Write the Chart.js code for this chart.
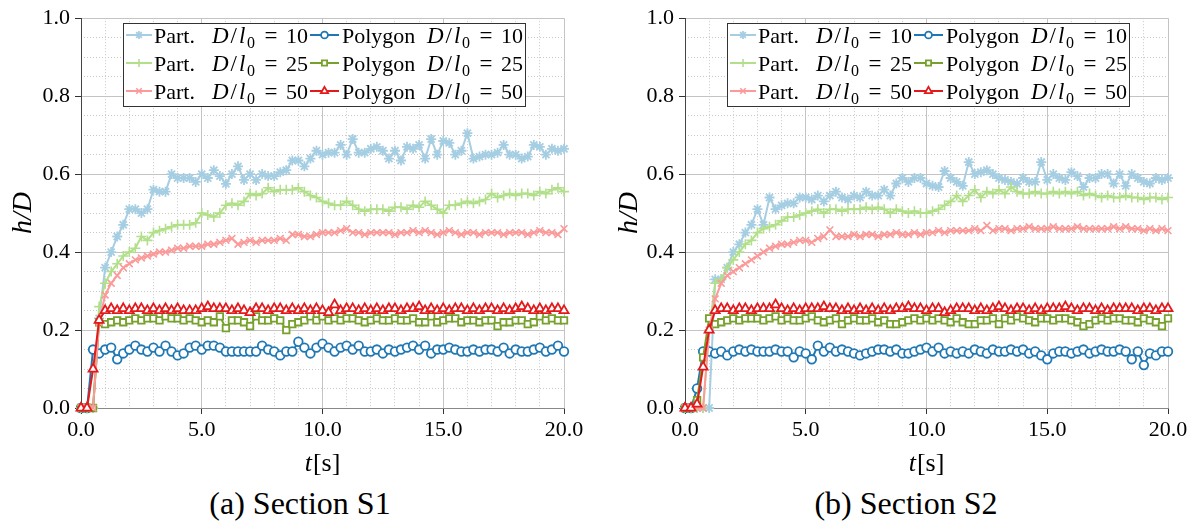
<!DOCTYPE html>
<html><head><meta charset="utf-8">
<script src="https://cdn.jsdelivr.net/npm/chart.js@4.4.1/dist/chart.umd.min.js"></script>
<style>
html,body{margin:0;padding:0;background:#fff;width:1198px;height:522px;overflow:hidden;}
#c1{position:absolute;left:0;top:0;}
#c2{position:absolute;left:599px;top:0;}
.cap{position:absolute;top:484px;height:38px;line-height:38px;font-family:'Liberation Serif';font-size:32px;color:#000;text-align:center;width:400px;}
</style></head><body>
<canvas id="c1" width="599" height="480"></canvas>
<canvas id="c2" width="599" height="480"></canvas>
<div class="cap" id="cap1" style="left:100px"></div>
<div class="cap" id="cap2" style="left:706px"></div>
<script>
const times = [0,0.25,0.5,0.75,1,1.25,1.5,1.75,2,2.25,2.5,2.75,3,3.25,3.5,3.75,4,4.25,4.5,4.75,5,5.25,5.5,5.75,6,6.25,6.5,6.75,7,7.25,7.5,7.75,8,8.25,8.5,8.75,9,9.25,9.5,9.75,10,10.25,10.5,10.75,11,11.25,11.5,11.75,12,12.25,12.5,12.75,13,13.25,13.5,13.75,14,14.25,14.5,14.75,15,15.25,15.5,15.75,16,16.25,16.5,16.75,17,17.25,17.5,17.75,18,18.25,18.5,18.75,19,19.25,19.5,19.75,20];

// Section S1
const s1Part10 = [0,0,0,0.23,0.36,0.40,0.44,0.47,0.51,0.51,
  0.50,0.51,0.56,0.555,0.555,0.60,0.59,0.59,0.59,0.58,
  0.60,0.59,0.61,0.595,0.575,0.60,0.62,0.585,0.60,0.585,
  0.60,0.595,0.595,0.605,0.61,0.635,0.635,0.62,0.64,0.66,
  0.65,0.655,0.655,0.675,0.65,0.69,0.655,0.655,0.665,0.67,
  0.66,0.64,0.66,0.635,0.67,0.665,0.675,0.64,0.69,0.65,
  0.685,0.68,0.65,0.66,0.705,0.64,0.645,0.65,0.65,0.655,
  0.675,0.65,0.65,0.64,0.645,0.675,0.67,0.65,0.665,0.66,
  0.665];
const s1Poly10 = [0,0,0.15,0.14,0.15,0.155,0.125,0.14,0.15,0.16,
  0.15,0.145,0.155,0.145,0.16,0.145,0.135,0.14,0.155,0.16,
  0.15,0.16,0.16,0.155,0.145,0.145,0.145,0.145,0.145,0.145,
  0.16,0.15,0.145,0.135,0.145,0.145,0.17,0.155,0.14,0.155,
  0.165,0.155,0.145,0.155,0.16,0.15,0.16,0.145,0.145,0.15,
  0.14,0.15,0.145,0.15,0.155,0.16,0.15,0.16,0.14,0.15,
  0.15,0.155,0.15,0.145,0.145,0.15,0.145,0.15,0.15,0.145,
  0.155,0.14,0.15,0.145,0.145,0.15,0.155,0.145,0.15,0.16,
  0.145];
const s1Part25 = [0,0,0,0.26,0.32,0.35,0.37,0.39,0.40,0.41,
  0.44,0.43,0.45,0.455,0.46,0.465,0.47,0.47,0.47,0.475,
  0.50,0.495,0.49,0.50,0.52,0.525,0.52,0.53,0.55,0.545,
  0.55,0.565,0.555,0.56,0.56,0.56,0.565,0.555,0.545,0.54,
  0.53,0.525,0.52,0.52,0.53,0.52,0.51,0.505,0.51,0.51,
  0.51,0.505,0.515,0.515,0.51,0.52,0.515,0.53,0.52,0.51,
  0.50,0.52,0.52,0.525,0.53,0.525,0.53,0.535,0.55,0.54,
  0.545,0.55,0.545,0.55,0.55,0.545,0.555,0.55,0.56,0.565,
  0.555];
const s1Poly25 = [0,0,0,0.22,0.215,0.22,0.225,0.22,0.225,0.23,
  0.225,0.23,0.23,0.225,0.235,0.23,0.23,0.225,0.23,0.225,
  0.22,0.225,0.22,0.235,0.205,0.225,0.225,0.22,0.21,0.235,
  0.225,0.225,0.23,0.225,0.20,0.215,0.22,0.225,0.235,0.225,
  0.235,0.225,0.23,0.225,0.23,0.23,0.225,0.22,0.225,0.23,
  0.225,0.225,0.23,0.225,0.225,0.23,0.22,0.22,0.235,0.22,
  0.225,0.23,0.23,0.22,0.225,0.225,0.22,0.225,0.225,0.21,
  0.22,0.22,0.225,0.225,0.215,0.22,0.235,0.225,0.23,0.225,
  0.225];
const s1Part50 = [0,0,0,0.22,0.29,0.32,0.34,0.36,0.37,0.38,
  0.385,0.39,0.395,0.40,0.40,0.405,0.41,0.41,0.415,0.415,
  0.415,0.42,0.42,0.425,0.43,0.435,0.42,0.425,0.43,0.425,
  0.43,0.43,0.43,0.435,0.43,0.445,0.445,0.44,0.44,0.445,
  0.45,0.45,0.45,0.455,0.46,0.45,0.45,0.445,0.45,0.45,
  0.45,0.45,0.445,0.45,0.45,0.455,0.45,0.455,0.45,0.445,
  0.45,0.455,0.45,0.445,0.45,0.45,0.445,0.45,0.45,0.45,
  0.445,0.45,0.45,0.45,0.445,0.45,0.455,0.45,0.45,0.445,
  0.46];
const s1Poly50 = [0,0,0.10,0.225,0.25,0.255,0.25,0.255,0.25,0.255,
  0.255,0.25,0.255,0.25,0.255,0.25,0.255,0.25,0.25,0.25,
  0.255,0.26,0.255,0.255,0.255,0.25,0.255,0.25,0.245,0.255,
  0.255,0.25,0.255,0.255,0.25,0.255,0.25,0.255,0.25,0.255,
  0.25,0.245,0.265,0.25,0.255,0.255,0.25,0.255,0.25,0.255,
  0.25,0.255,0.255,0.25,0.255,0.255,0.26,0.25,0.255,0.25,
  0.255,0.25,0.255,0.255,0.25,0.255,0.25,0.255,0.255,0.25,
  0.255,0.25,0.255,0.26,0.255,0.25,0.255,0.25,0.255,0.255,
  0.25];

// Section S2
const s2Part10 = [0,0,0,0,0,0.33,0.33,0.36,0.40,0.42,
  0.45,0.47,0.51,0.47,0.54,0.51,0.52,0.525,0.525,0.54,
  0.54,0.535,0.545,0.53,0.545,0.555,0.54,0.535,0.545,0.54,
  0.555,0.545,0.545,0.56,0.545,0.576,0.59,0.58,0.59,0.59,
  0.576,0.57,0.567,0.608,0.59,0.58,0.57,0.631,0.60,0.605,
  0.61,0.60,0.59,0.585,0.58,0.575,0.59,0.58,0.58,0.631,
  0.585,0.60,0.59,0.585,0.605,0.595,0.567,0.59,0.59,0.60,
  0.60,0.576,0.60,0.57,0.60,0.59,0.58,0.576,0.59,0.585,
  0.59];
const s2Poly10 = [0,0,0.05,0.145,0.145,0.14,0.145,0.135,0.145,0.15,
  0.145,0.15,0.145,0.145,0.145,0.15,0.145,0.145,0.13,0.145,
  0.14,0.125,0.16,0.145,0.155,0.145,0.15,0.145,0.14,0.135,
  0.14,0.145,0.15,0.15,0.145,0.15,0.14,0.14,0.145,0.15,
  0.155,0.145,0.155,0.14,0.145,0.14,0.145,0.14,0.15,0.145,
  0.14,0.15,0.145,0.145,0.15,0.145,0.15,0.14,0.145,0.135,
  0.125,0.14,0.145,0.145,0.14,0.145,0.15,0.14,0.145,0.15,
  0.145,0.145,0.15,0.145,0.125,0.145,0.11,0.14,0.135,0.145,
  0.145];
const s2Part25 = [0,0,0,0,0.20,0.32,0.33,0.36,0.38,0.40,
  0.42,0.43,0.45,0.46,0.465,0.47,0.48,0.49,0.49,0.495,
  0.50,0.505,0.51,0.50,0.51,0.51,0.505,0.51,0.51,0.51,
  0.515,0.51,0.515,0.51,0.50,0.51,0.505,0.50,0.505,0.50,
  0.50,0.505,0.51,0.52,0.53,0.545,0.53,0.545,0.56,0.54,
  0.555,0.55,0.56,0.55,0.567,0.555,0.55,0.55,0.555,0.55,
  0.55,0.555,0.55,0.555,0.55,0.555,0.545,0.55,0.545,0.54,
  0.545,0.54,0.54,0.545,0.54,0.54,0.535,0.54,0.54,0.535,
  0.54];
const s2Poly25 = [0,0,0.02,0.13,0.23,0.215,0.22,0.225,0.23,0.225,
  0.23,0.23,0.23,0.225,0.23,0.235,0.225,0.23,0.225,0.225,
  0.23,0.235,0.225,0.22,0.225,0.23,0.215,0.225,0.23,0.225,
  0.225,0.23,0.22,0.225,0.215,0.215,0.22,0.225,0.23,0.225,
  0.23,0.225,0.23,0.225,0.22,0.23,0.22,0.215,0.215,0.225,
  0.225,0.23,0.215,0.23,0.225,0.235,0.23,0.225,0.22,0.23,
  0.23,0.225,0.23,0.23,0.225,0.22,0.21,0.215,0.225,0.23,
  0.225,0.23,0.23,0.225,0.225,0.22,0.23,0.225,0.22,0.21,
  0.23];
const s2Part50 = [0,0,0,0,0.20,0.28,0.32,0.34,0.35,0.36,
  0.37,0.38,0.39,0.40,0.41,0.415,0.42,0.42,0.425,0.43,
  0.43,0.425,0.435,0.44,0.457,0.44,0.44,0.44,0.445,0.44,
  0.445,0.445,0.44,0.445,0.445,0.45,0.445,0.445,0.45,0.445,
  0.45,0.45,0.455,0.45,0.455,0.455,0.455,0.455,0.46,0.455,
  0.468,0.455,0.46,0.46,0.455,0.46,0.46,0.465,0.46,0.46,
  0.46,0.465,0.46,0.46,0.46,0.465,0.46,0.46,0.46,0.46,
  0.46,0.465,0.46,0.465,0.46,0.46,0.455,0.46,0.455,0.46,
  0.455];
const s2Poly50 = [0,0,0.01,0.105,0.20,0.25,0.255,0.255,0.25,0.255,
  0.255,0.25,0.255,0.255,0.255,0.265,0.255,0.25,0.255,0.25,
  0.255,0.255,0.255,0.26,0.255,0.255,0.25,0.255,0.25,0.255,
  0.25,0.255,0.25,0.255,0.25,0.255,0.255,0.26,0.255,0.255,
  0.25,0.255,0.255,0.245,0.25,0.255,0.255,0.255,0.25,0.255,
  0.25,0.255,0.26,0.255,0.25,0.255,0.255,0.25,0.255,0.25,
  0.255,0.255,0.255,0.26,0.255,0.25,0.255,0.255,0.25,0.255,
  0.25,0.255,0.255,0.255,0.255,0.25,0.255,0.255,0.25,0.255,
  0.255];

const xTickLabels = ['0.0','5.0','10.0','15.0','20.0'];
const yTickLabels = ['0.0','0.2','0.4','0.6','0.8','1.0'];
const seriesKinds = ['Part.','Polygon','Part.','Polygon','Part.','Polygon'];
const seriesRatios = ['10','10','25','25','50','50'];
const captions = ['(a) Section S1','(b) Section S2'];
const xTitle = ['t','[s]'];
const yTitle = 'h/D';

const SERIF = "'Liberation Serif'";
const styles = [
  {color:'#a6cee3', pointStyle:'star',     radius:5.0, pbw:1.8, bg:'#a6cee3', bw:2},
  {color:'#1f78b4', pointStyle:'circle',   radius:4.3, pbw:1.8, bg:'#ffffff', bw:2},
  {color:'#b2df8a', pointStyle:'cross',    radius:5.0, pbw:1.6, bg:'#b2df8a', bw:2},
  {color:'#76a12c', pointStyle:'rect',     radius:4.6, pbw:1.8, bg:'#ffffff', bw:2},
  {color:'#fb9a99', pointStyle:'crossRot', radius:4.8, pbw:1.6, bg:'#fb9a99', bw:2},
  {color:'#e31a1c', pointStyle:'triangle', radius:5.2, pbw:1.8, bg:'#ffffff', bw:2}
];

function buildDatasets(list){
  return list.map((vals,k)=>{
    const st = styles[k];
    return {
      label: seriesKinds[k]+' D/l0 = '+seriesRatios[k],
      kind: seriesKinds[k], ratio: seriesRatios[k],
      data: times.map((t,i)=>({x:t, y:vals[i]})),
      xAxisID:'x', yAxisID:'y',
      borderColor: st.color, backgroundColor: st.bg,
      pointBorderColor: st.color, pointBackgroundColor: st.bg,
      pointStyle: st.pointStyle, pointRadius: st.radius, pointHoverRadius: st.radius,
      pointBorderWidth: st.pbw, borderWidth: st.bw,
      order: 6-k, clip: false, tension: 0
    };
  });
}

const isMajorX = v => Math.abs(v/5 - Math.round(v/5)) < 1e-6;
const isMajorY = v => Math.abs(v/0.2 - Math.round(v/0.2)) < 1e-6;

const boxLegend = {
  id:'boxLegend',
  afterDatasetsDraw(chart){
    const ctx = chart.ctx, ca = chart.chartArea;
    const L = ca.left+42, T = 23, W = 402, H = 83;
    ctx.save();
    ctx.fillStyle = '#fff'; ctx.fillRect(L,T,W,H);
    ctx.strokeStyle = '#333'; ctx.lineWidth = 1; ctx.strokeRect(L+0.5,T+0.5,W,H);
    const rows = [35,63,91];
    chart.data.datasets.forEach((ds,k)=>{
      const row = Math.floor(k/2), col = k%2;
      const y = rows[row];
      const sx0 = L + (col?187:3), sx1 = L + (col?216:29), mx = L + (col?201.5:16);
      ctx.strokeStyle = ds.borderColor; ctx.lineWidth = ds.borderWidth;
      ctx.beginPath(); ctx.moveTo(sx0,y); ctx.lineTo(sx1,y); ctx.stroke();
      ctx.fillStyle = ds.pointBackgroundColor; ctx.strokeStyle = ds.pointBorderColor; ctx.lineWidth = ds.pointBorderWidth;
      Chart.helpers.drawPoint(ctx,{pointStyle:ds.pointStyle,rotation:0,radius:ds.pointRadius*0.8,borderWidth:ds.pointBorderWidth},mx,y);
      const base = y+7.5;
      ctx.fillStyle = '#000'; ctx.textBaseline = 'alphabetic'; ctx.textAlign = 'left';
      ctx.font = '22px '+SERIF;
      ctx.fillText(ds.kind, L + (col?219:31), base);
      let x = L + (col?304:89);
      ctx.font = 'italic 23px '+SERIF; ctx.fillText('D', x, base); x += ctx.measureText('D').width + 2;
      ctx.font = '23px '+SERIF; ctx.fillText('/', x, base); x += ctx.measureText('/').width + 2;
      ctx.font = 'italic 23px '+SERIF; ctx.fillText('l', x, base); x += ctx.measureText('l').width + 1.5;
      ctx.font = '16px '+SERIF; ctx.fillText('0', x, base+5.5);
      ctx.font = '23px '+SERIF;
      ctx.textAlign = 'center'; ctx.fillText('=', L + (col?363:148), base);
      ctx.font = '22px '+SERIF;
      ctx.textAlign = 'right'; ctx.fillText(ds.ratio, L + (col?400:185), base);
    });
    ctx.restore();
  }
};

const xTitlePlugin = {
  id:'xTitlePlugin',
  afterDraw(chart){
    const ctx = chart.ctx, ca = chart.chartArea;
    ctx.save();
    ctx.fillStyle = '#000'; ctx.textBaseline = 'alphabetic'; ctx.textAlign = 'left';
    ctx.font = 'italic 26px '+SERIF; const w1 = ctx.measureText(xTitle[0]).width;
    ctx.font = '26px '+SERIF; const w2 = ctx.measureText(xTitle[1]).width;
    const x0 = (ca.left+ca.right)/2 - (w1+w2+1)/2;
    ctx.font = 'italic 26px '+SERIF; ctx.fillText(xTitle[0], x0, 471);
    ctx.font = '26px '+SERIF; ctx.fillText(xTitle[1], x0+w1+1, 471);
    ctx.restore();
  }
};

function makeChart(id, list, axisW, padR, titlePad){
  const tickFont = {family: SERIF, size: 22};
  return new Chart(document.getElementById(id), {
    type:'line',
    data:{datasets: buildDatasets(list)},
    options:{
      responsive:false, animation:false, devicePixelRatio:1,
      layout:{padding:{left:0,right:padR,top:15,bottom:0}},
      plugins:{legend:{display:false}, tooltip:{enabled:false}},
      scales:{
        xm:{type:'linear', position:'bottom', min:0, max:20,
          ticks:{display:false, stepSize:1},
          grid:{color: c => isMajorX(c.tick ? c.tick.value : 0) ? 'rgba(0,0,0,0)' : '#c8c8c8', lineWidth:1, drawTicks:false},
          border:{display:false, dash:[1,2]},
          afterFit(s){ s.height = 0; }},
        ym:{type:'linear', position:'left', min:0, max:1,
          ticks:{display:false, stepSize:0.05},
          grid:{color: c => isMajorY(c.tick ? c.tick.value : 0) ? 'rgba(0,0,0,0)' : '#c8c8c8', lineWidth:1, drawTicks:false},
          border:{display:false, dash:[1,2]},
          afterFit(s){ s.width = 0; }},
        x:{type:'linear', position:'bottom', min:0, max:20,
          ticks:{stepSize:5, color:'#000', font:tickFont, padding:3, maxRotation:0,
            callback:(v,i)=>xTickLabels[i]},
          grid:{color:'#c4c4c4', lineWidth:1, tickColor:'#333', tickLength:6},
          border:{color:'#888', width:1},
          afterFit(s){ s.height = 72; }},
        y:{type:'linear', position:'left', min:0, max:1,
          ticks:{stepSize:0.2, color:'#000', font:tickFont, padding:5,
            callback:(v,i)=>yTickLabels[i]},
          grid:{color:'#c4c4c4', lineWidth:1, tickColor:'#333', tickLength:6},
          border:{color:'#444', width:1},
          title:{display:true, text:yTitle, color:'#000', font:{family:SERIF, size:28, style:'italic', lineHeight:1.2}, padding:{top:titlePad, bottom:0}},
          afterFit(s){ s.width = axisW; }}
      }
    },
    plugins:[boxLegend, xTitlePlugin]
  });
}

document.getElementById('cap1').textContent = captions[0];
document.getElementById('cap2').textContent = captions[1];

makeChart('c1', [s1Part10,s1Poly10,s1Part25,s1Poly25,s1Part50,s1Poly50], 81, 35, 7);
makeChart('c2', [s2Part10,s2Poly10,s2Part25,s2Poly25,s2Part50,s2Poly50], 86, 30, 14);
</script>
</body></html>
